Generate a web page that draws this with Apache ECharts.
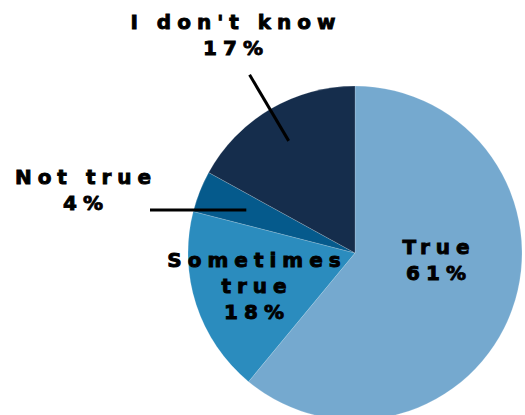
<!DOCTYPE html>
<html>
<head>
<meta charset="utf-8">
<script src="https://cdn.jsdelivr.net/npm/echarts@6/dist/echarts.min.js"></script>
<style>
html,body{margin:0;padding:0;background:#fff;}
#c{width:525px;height:415px;}
#c text{letter-spacing:6px;}
</style>
</head>
<body>
<div id="c"></div>
<script>
const categories = ['True', 'Sometimes true', 'Not true', "I don't know"];
const values = [61, 18, 4, 17];
const labelNames = ['True', 'Sometimes\ntrue', 'Not true', "I don't know"];
const colors = ['#75a9cf', '#2b8cbe', '#055a8c', '#152d4c'];

const CX = 355, CY = 253, R = 167;
const SP = 6;
// label anchor positions (text placement only)
const labelPos = [[436, 260], [254, 286], [83, 190], [233, 35]];

const total = values.reduce((a, b) => a + b, 0);
function midDir(i) {
  let before = 0;
  for (let k = 0; k < i; k++) before += values[k];
  const frac = (before + values[i] / 2) / total;
  const a = frac * Math.PI * 2;
  return [Math.sin(a), -Math.cos(a)];
}

const pieData = categories.map((c, i) => ({name: c, value: values[i]}));

const chart = echarts.init(document.getElementById('c'), null, {renderer: 'svg'});
chart.setOption({
  animation: false,
  series: [{
    type: 'pie',
    z: 2,
    center: [CX, CY],
    radius: R,
    startAngle: 90,
    clockwise: true,
    data: pieData.map((d, i) => Object.assign({}, d, {itemStyle: {color: colors[i]}})),
    itemStyle: {borderColor: 'rgba(255,255,255,0.35)', borderWidth: 0.5},
    label: {show: false},
    labelLine: {show: false}
  }, {
    type: 'pie',
    z: 5,
    silent: true,
    center: [CX, CY],
    radius: R,
    startAngle: 90,
    clockwise: true,
    data: pieData.map((d, i) => Object.assign({}, d, {
      label: {position: i >= 2 ? 'outside' : 'inside'},
      labelLine: {show: i >= 2}
    })),
    itemStyle: {color: 'rgba(0,0,0,0)'},
    label: {
      show: true,
      formatter: p => labelNames[p.dataIndex] + '\n' + p.value + '%',
      fontFamily: 'DejaVu Sans',
      fontWeight: 'bold',
      fontSize: 20,
      lineHeight: 26,
      color: '#000',
      textBorderColor: '#000',
      textBorderWidth: 0.9,
      align: 'center',
      verticalAlign: 'middle'
    },
    labelLine: {
      lineStyle: {color: '#000', width: 3}
    },
    labelLayout: function (p) {
      const i = p.dataIndex;
      const pos = labelPos[i];
      const res = {x: pos[0] + SP / 2, y: pos[1], align: 'center', verticalAlign: 'middle'};
      const d = midDir(i);
      if (i === 2) {
        const p0 = [CX + 0.70 * R * d[0], CY + 0.70 * R * d[1]];
        res.labelLinePoints = [p0, [pos[0] + 67, p0[1]], [pos[0] + 67, p0[1]]];
      } else if (i === 3) {
        const p0 = [CX + 0.78 * R * d[0], CY + 0.78 * R * d[1]];
        const p1 = [CX + 1.24 * R * d[0], CY + 1.24 * R * d[1]];
        res.labelLinePoints = [p0, p1, p1];
      }
      return res;
    }
  }]
});
</script>
</body>
</html>
